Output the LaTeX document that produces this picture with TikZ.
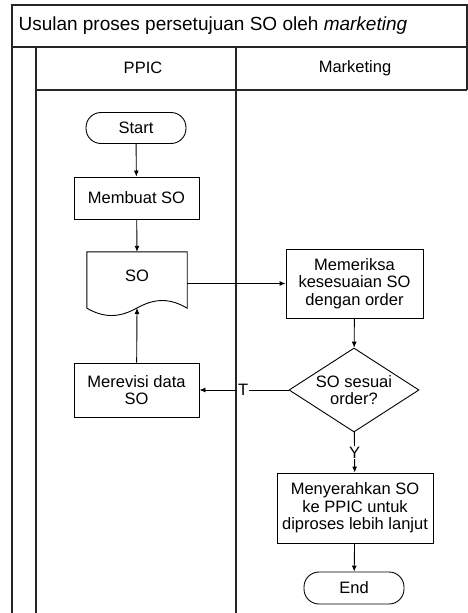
\documentclass[tikz,border=0pt]{standalone}
\usepackage{fontspec}
\setmainfont{Liberation Sans}
\usetikzlibrary{arrows.meta,shapes.geometric,calc}

\begin{document}
\begin{tikzpicture}[x=1pt,y=-1pt,
    font=\fontsize{16.5}{17.5}\selectfont,
    lane/.style={line width=1.2pt,draw=black!85},
    box/.style={draw,line width=0.9pt,align=center,inner sep=2pt},
    terminal/.style={box,rounded corners=15pt,minimum width=100pt,minimum height=31pt},
    decision/.style={box,diamond,shape aspect=1.55,inner sep=0pt,minimum width=130pt,minimum height=84pt},
    flow/.style={line width=0.9pt,-{Latex[length=6pt,width=5pt]}}]
  \useasboundingbox (0,0) rectangle (468,613);

  % Swimlanes
  \draw[lane] (12,613) -- (12,5) -- (467,5) -- (467,90);
  \draw[lane] (12,47) -- (467,47);
  \draw[lane] (36,90) -- (467,90);
  \draw[lane] (36,47) -- (36,613);
  \draw[lane] (236,47) -- (236,613);
  \node[anchor=west,font=\fontsize{19}{22}\selectfont] (title) at (15,26)
    {Usulan proses persetujuan SO oleh \textit{marketing}};
  \node (ppic) at (143,68) {PPIC};
  \node (mkt) at (355,68) {Marketing};

  % Steps
  \node[terminal] (start) at (136,128) {Start};
  \node[box,minimum width=125pt,minimum height=42pt] (buat) at (136.5,198) {Membuat SO};
  \node[minimum width=100pt,minimum height=48pt,inner sep=0pt] (so) at (137,276) {SO};
  \draw[line width=0.9pt] ($(so.south west)+(0,8)$) -- (so.north west) -- (so.north east)
    -- ($(so.south east)+(0,8)$) .. controls (170,298) and (155,298) .. (137,308)
    coordinate (sowave) .. controls (119,318) and (104,318) .. ($(so.south west)+(0,8)$);
  \node[box,minimum width=125pt,minimum height=54pt] (revisi) at (136.5,390) {Merevisi data\\SO};
  \node[box,minimum width=137pt,minimum height=69pt] (periksa) at (354.5,283.5)
    {Memeriksa\\kesesuaian SO\\dengan order};
  \node[decision] (cek) at (354,390) {SO sesuai\\order?};
  \node[box,minimum width=156pt,minimum height=70pt] (serah) at (355,508)
    {Menyerahkan SO\\ke PPIC untuk\\diproses lebih lanjut};
  \node[terminal,minimum height=32pt] (end) at (354,588) {End};

  % Arrows
  \draw[flow] (start) -- (buat);
  \draw[flow] (buat) -- (so.north);
  \draw[flow] (so.east |- periksa) -- (periksa);
  \draw[flow] (periksa) -- (cek);
  \draw[flow] (cek) -- node[pos=0.51,fill=white,inner sep=1pt] {T} (revisi);
  \draw[flow] (revisi) -- (sowave);
  \draw[flow] (cek) -- node[pos=0.5,fill=white,inner sep=1pt] {Y} (serah);
  \draw[flow] (serah) -- (end);
\end{tikzpicture}
\end{document}
